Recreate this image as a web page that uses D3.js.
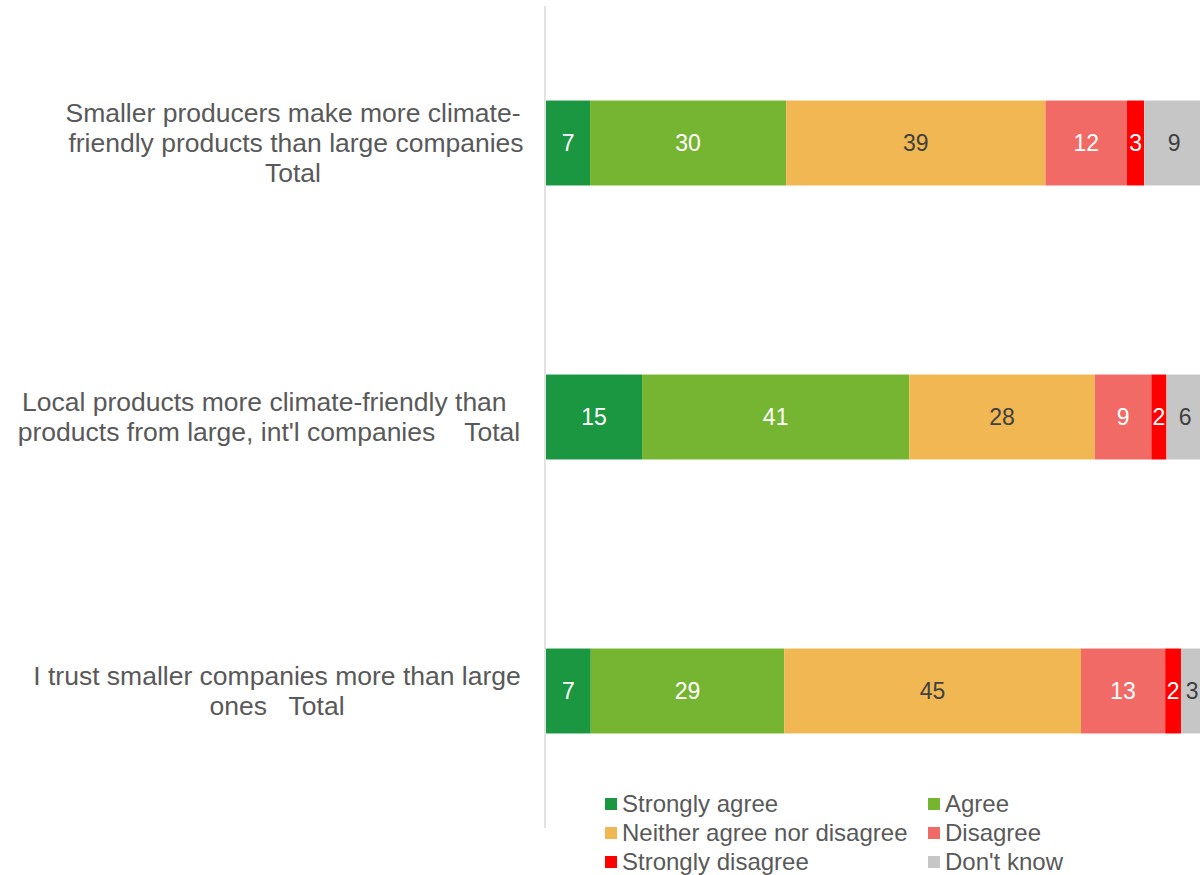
<!DOCTYPE html>
<html>
<head>
<meta charset="utf-8">
<script src="https://cdn.jsdelivr.net/npm/d3@7"></script>
<style>
  body { margin: 0; background: #fff; }
  svg { display: block; font-family: "Liberation Sans", Arial, sans-serif; }
</style>
</head>
<body>
<svg id="chart" width="1200" height="875"></svg>
<script>
// statements, one per bar (lines as wrapped in the original)
const statements = [
    ["Smaller producers make more climate-", "friendly products than large companies", "Total"],
    ["Local products more climate-friendly than ", "products from large, int'l companies    Total"],
    ["I trust smaller companies more than large", "ones   Total"]
];
const categories = ["Strongly agree", "Agree", "Neither agree nor disagree", "Disagree", "Strongly disagree", "Don't know"];
// percentages per statement (same order as categories)
const smallerProducers = [6.7, 29.8, 39.4, 12.4, 2.6, 9.1];
const localProducts = [14.6, 40.6, 28.2, 8.6, 2.3, 5.7];
const trustSmaller = [6.8, 29.4, 45.1, 12.8, 2.4, 3.4];
const seriesValues = [smallerProducers, localProducts, trustSmaller];

const colors = ["#1b9742", "#76b531", "#f0b753", "#f26a66", "#ff0000", "#c6c6c6"];
const labelColors = ["#fff", "#fff", "#404040", "#fff", "#fff", "#404040"];
// centre of each wrapped label line
const lineCenters = [[293, 296, 293], [268, 269], [277, 277]];

const svg = d3.select("#chart");

const y = d3.scaleBand()
    .domain(d3.range(statements.length))
    .range([6, 828])
    .paddingInner(0.69)
    .paddingOuter(0.345);

const x = d3.scaleLinear().domain([0, 100]).range([546, 1204]);

// stacked data
const rows = seriesValues.map((vals, i) => {
    let acc = 0;
    return vals.map((v, j) => {
        const seg = { row: i, cat: j, x0: acc, x1: acc + v, value: v };
        acc += v;
        return seg;
    });
});

const g = svg.append("g");

g.selectAll(".bar-group")
    .data(rows)
    .enter().append("g")
    .attr("class", "bar-group")
    .selectAll("rect")
    .data(d => d)
    .enter().append("rect")
    .attr("x", d => x(d.x0))
    .attr("y", d => y(d.row))
    .attr("width", d => x(d.x1) - x(d.x0))
    .attr("height", y.bandwidth())
    .attr("fill", d => colors[d.cat]);

// value labels
g.selectAll(".val")
    .data(rows.flat())
    .enter().append("text")
    .attr("class", "val")
    .attr("x", d => (x(d.x0) + x(d.x1)) / 2)
    .attr("y", d => y(d.row) + y.bandwidth() / 2)
    .attr("dy", "0.35em")
    .attr("text-anchor", "middle")
    .style("font-size", "23px")
    .attr("fill", d => labelColors[d.cat])
    .text(d => Math.round(d.value));

// axis line
svg.append("line")
    .attr("x1", 545).attr("x2", 545)
    .attr("y1", y.range()[0]).attr("y2", y.range()[1])
    .attr("stroke", "#d9d9d9")
    .attr("stroke-width", 1.5);

// category labels
const lineH = 30;
statements.forEach((lines, i) => {
    const cy = y(i) + y.bandwidth() / 2;
    const top = cy - (lines.length - 1) * lineH / 2;
    const t = svg.append("text")
        .attr("text-anchor", "middle")
        .attr("fill", "#595959")
        .style("font-size", "26.5px")
        .style("white-space", "pre");
    lines.forEach((line, k) => {
        t.append("tspan")
            .attr("x", lineCenters[i][k])
            .attr("y", top + k * lineH)
            .attr("dy", "0.35em")
            .text(line);
    });
});

// legend
const legendCols = [605, 928];
const legendRows = [804, 833, 862];
const legend = svg.append("g").attr("class", "legend");

const items = legend.selectAll("g")
    .data(categories)
    .enter().append("g")
    .attr("transform", (d, i) => `translate(${legendCols[i % 2]}, ${legendRows[Math.floor(i / 2)]})`);

items.append("rect")
    .attr("x", 0)
    .attr("y", -6)
    .attr("width", 12)
    .attr("height", 12)
    .attr("fill", (d, i) => colors[i]);

items.append("text")
    .attr("x", 17)
    .attr("dy", "0.35em")
    .style("font-size", "24px")
    .attr("fill", "#595959")
    .text(d => d);
</script>
</body>
</html>
